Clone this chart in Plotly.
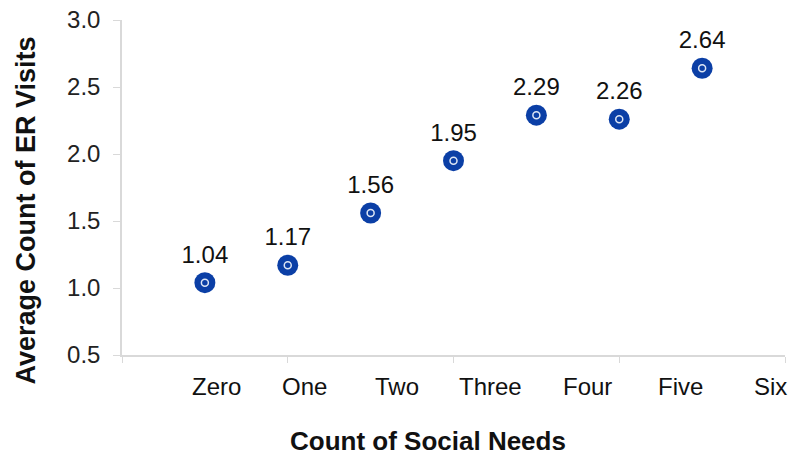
import plotly.graph_objects as go

# data
needs_x = [1, 2, 3, 4, 5, 6, 7]
er_visits = [1.04, 1.17, 1.56, 1.95, 2.29, 2.26, 2.64]
need_labels = ["Zero", "One", "Two", "Three", "Four", "Five", "Six"]
# where the category labels sit under the axis (they are offset in the original)
label_pos = [1.14, 2.2, 3.32, 4.45, 5.62, 6.74, 7.83]

BLUE = "#0B3FA6"
GRAY = "#D9D9D9"
FONT = "Liberation Sans, Arial, sans-serif"
INK = "#111111"

fig = go.Figure()
fig.add_trace(go.Scatter(
    x=needs_x, y=er_visits, mode="markers+text",
    text=[f"{v:.2f}" for v in er_visits], textposition="top center",
    textfont=dict(size=24, color=INK, family=FONT),
    marker=dict(size=21, color=BLUE, line=dict(width=0)),
    hoverinfo="x+y",
))
fig.add_trace(go.Scatter(
    x=needs_x, y=er_visits, mode="markers",
    marker=dict(size=7, symbol="circle-open", color="#DDE6F5", line=dict(width=1.5)),
    hoverinfo="skip",
))

for lab, pos in zip(need_labels, label_pos):
    fig.add_annotation(
        x=pos, y=0, xref="x", yref="paper", text=lab, showarrow=False,
        yanchor="top", yshift=-16, font=dict(size=24, color=INK, family=FONT),
    )

# axis titles as annotations for exact placement
fig.add_annotation(
    x=0.5, y=0, xref="paper", yref="paper", text="<b>Count of Social Needs</b>",
    showarrow=False, yanchor="middle", yshift=-86, xshift=-26,
    font=dict(size=26, color=INK, family=FONT),
)
fig.add_annotation(
    x=0, y=0.5, xref="paper", yref="paper", text="<b>Average Count of ER Visits</b>",
    showarrow=False, textangle=-90, xanchor="center", xshift=-97, yshift=-23,
    font=dict(size=27, color=INK, family=FONT),
)

fig.update_xaxes(
    range=[0, 8], tickvals=[0, 2, 4, 6, 8], showticklabels=False,
    ticks="outside", ticklen=6, tickcolor=GRAY, showgrid=False, zeroline=False,
    showline=True, linecolor=GRAY, linewidth=1.5, automargin=False,
)
fig.update_yaxes(
    range=[0.5, 3.0], dtick=0.5, tickformat=".1f",
    ticks="outside", ticklen=7, tickcolor=GRAY, showgrid=False, zeroline=False,
    showline=True, linecolor=GRAY, linewidth=1.5, automargin=False,
    ticklabelstandoff=8,
    tickfont=dict(size=24, color="#222222", family=FONT),
)
fig.update_layout(
    width=790, height=457, showlegend=False,
    plot_bgcolor="white", paper_bgcolor="white",
    margin=dict(l=122, r=5, t=20, b=102),
    font=dict(family=FONT),
)
# drop the page's default body margin so the figure fills the window
fig.write_html("out.html", config={"displayModeBar": False},
               post_script="document.body.style.margin='0';")
